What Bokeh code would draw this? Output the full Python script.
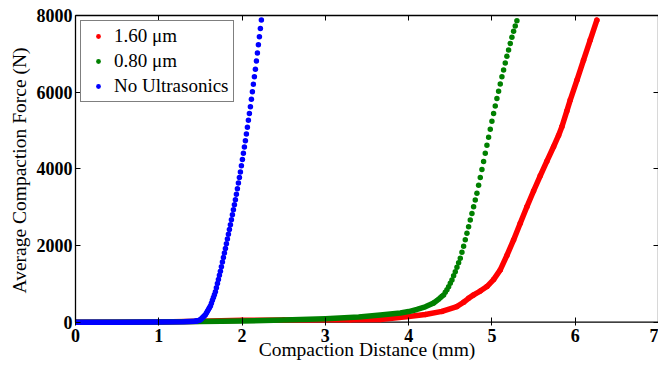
from bokeh.plotting import figure
from bokeh.models import Range1d, LinearAxis, FixedTicker, Legend, LegendItem, Span
from bokeh.embed import file_html
from bokeh.resources import INLINE

# ---------------- data ----------------
x_ticks = [0, 1, 2, 3, 4, 5, 6, 7]
y_ticks = [0, 2000, 4000, 6000, 8000]

# 1.60 um (red)
red_x = [0.0, 1.0, 1.5, 2.0, 2.5, 3.0, 3.3, 3.66, 4.0, 4.2, 4.4, 4.58, 4.66, 4.72,
         4.78, 4.86, 4.94, 5.02, 5.10, 5.18, 5.26, 5.34, 5.42, 5.50, 5.58, 5.66,
         5.74, 5.80, 5.84, 5.90, 5.94, 6.02, 6.10, 6.18, 6.26]
red_y = [0, 2, 25, 50, 55, 60, 62, 70, 146, 200, 280, 407, 520, 620,
         711, 810, 928, 1110, 1363, 1740, 2145, 2580, 3012, 3420, 3817, 4200,
         4576, 4870, 5097, 5510, 5793, 6310, 6835, 7360, 7878]

# 0.80 um (green): flat part and sampled rising part
green_base_x = [0.0, 1.0, 1.5, 2.0, 2.5, 3.0, 3.4, 3.66, 3.9, 4.0, 4.1, 4.2, 4.3]
green_base_y = [0, 2, 15, 30, 55, 90, 135, 185, 240, 276, 330, 400, 500]
green_dot_x = [4.30, 4.32, 4.34, 4.36, 4.38, 4.40, 4.42, 4.44, 4.46, 4.48, 4.50,
               4.52, 4.54, 4.56, 4.58, 4.60, 4.62, 4.64, 4.66, 4.68, 4.70, 4.72,
               4.74, 4.76, 4.78, 4.80, 4.82, 4.84, 4.86, 4.88, 4.90, 4.92, 4.94,
               4.96, 4.98, 5.00, 5.02, 5.04, 5.06, 5.08, 5.10, 5.12, 5.14, 5.16,
               5.18, 5.20, 5.22, 5.24, 5.26, 5.28, 5.30]
green_dot_y = [500, 533, 567, 600, 637, 674, 711, 778, 846, 924, 1013,
               1102, 1209, 1316, 1430, 1549, 1668, 1825, 1982, 2146, 2319, 2491,
               2663, 2834, 3008, 3185, 3362, 3569, 3776, 3985, 4194, 4404, 4614,
               4824, 5033, 5240, 5446, 5640, 5834, 6024, 6212, 6400, 6580, 6760,
               6934, 7102, 7270, 7430, 7590, 7725, 7860]

# No Ultrasonics (blue): flat part and sampled rising part
blue_base_x = [0.0, 0.5, 1.0, 1.3, 1.44]
blue_base_y = [0, 0, 3, 8, 20]
blue_dot_x = [1.440, 1.452, 1.464, 1.476, 1.488, 1.500, 1.512, 1.524, 1.536, 1.548,
              1.560, 1.572, 1.584, 1.596, 1.608, 1.620, 1.632, 1.644, 1.656, 1.668,
              1.680, 1.692, 1.704, 1.716, 1.728, 1.740, 1.752, 1.764, 1.776, 1.788,
              1.800, 1.812, 1.824, 1.836, 1.848, 1.860, 1.872, 1.884, 1.896, 1.908,
              1.920, 1.932, 1.944, 1.956, 1.968, 1.980, 1.992, 2.004, 2.016, 2.028,
              2.040, 2.052, 2.064, 2.076, 2.088, 2.100, 2.112, 2.124, 2.136, 2.148,
              2.160, 2.172, 2.184, 2.196, 2.208, 2.220, 2.232]
blue_dot_y = [20, 28, 36, 44, 52, 60, 86, 112, 138, 164,
              190, 236, 282, 328, 374, 420, 494, 568, 642, 716,
              790, 898, 1006, 1114, 1222, 1330, 1448, 1566, 1684, 1802,
              1920, 2044, 2168, 2292, 2416, 2540, 2670, 2800, 2930, 3060,
              3190, 3336, 3482, 3628, 3774, 3920, 4082, 4244, 4406, 4568,
              4730, 4908, 5086, 5264, 5442, 5620, 5816, 6012, 6208, 6404,
              6600, 6812, 7024, 7236, 7448, 7660, 7880]

labels = ["1.60 μm", "0.80 μm", "No Ultrasonics"]
RED, GREEN, BLUE = "#ff0000", "#008000", "#0000ff"
FONT = "Liberation Serif"

# ---------------- figure ----------------
p = figure(width=658, height=365, output_backend="svg", toolbar_location=None,
           x_range=Range1d(0, 7), y_range=Range1d(-88, 8000),
           x_axis_location=None, y_axis_location=None,
           min_border_left=75, min_border_right=0, min_border_top=15, min_border_bottom=40)
p.grid.visible = False
p.outline_line_color = None
p.background_fill_color = "white"
p.border_fill_color = "white"

# x-axis line at y = 0 (under the data, as in the reference)
p.add_layout(Span(location=0, dimension="width", line_color="black",
                  line_width=1.3, level="underlay"))

LW = 5.5
DOT = 5.5

red_line = p.line(red_x, red_y, line_color=RED, line_width=LW, line_cap="round", line_join="round")
red_dots = p.scatter(red_x, red_y, size=DOT, fill_color=RED, line_color=None)

p.line(green_base_x, green_base_y, line_color=GREEN, line_width=LW, line_cap="round", line_join="round")
green_dots = p.scatter(green_dot_x, green_dot_y, size=DOT, fill_color=GREEN, line_color=None)

p.line(blue_base_x, blue_base_y, line_color=BLUE, line_width=LW, line_cap="round", line_join="round")
blue_dots = p.scatter(blue_dot_x, blue_dot_y, size=DOT, fill_color=BLUE, line_color=None)


def style(ax, ticks, show_labels):
    ax.ticker = FixedTicker(ticks=ticks)
    ax.major_tick_in = 5
    ax.major_tick_out = 0
    ax.minor_tick_line_color = None
    ax.axis_line_color = "black"
    ax.axis_line_width = 1.3
    ax.major_tick_line_color = "black"
    ax.major_tick_line_width = 1
    if show_labels:
        ax.major_label_text_font = FONT
        ax.major_label_text_font_style = "bold"
        ax.major_label_text_font_size = "18px"
        ax.major_label_text_color = "black"
        ax.axis_label_text_font = FONT
        ax.axis_label_text_font_style = "normal"
        ax.axis_label_text_font_size = "19.5px"
        ax.axis_label_text_color = "black"
    else:
        ax.major_label_overrides = {t: "" for t in ticks}
        ax.major_label_text_font_size = "1px"
        ax.major_label_text_alpha = 0
        ax.major_label_standoff = 0
        ax.axis_label_standoff = 0


xb = LinearAxis(axis_label="Compaction Distance (mm)")
style(xb, x_ticks, True)
xb.axis_line_color = None          # drawn by the Span at y = 0
xb.major_tick_in = 8
xb.major_label_standoff = 3
xb.axis_label_standoff = -6
p.add_layout(xb, "below")

yl = LinearAxis(axis_label="Average Compaction Force (N)", bounds=(0, 8000))
style(yl, y_ticks, True)
yl.major_label_standoff = 3
yl.axis_label_standoff = 4
p.add_layout(yl, "left")

xt = LinearAxis()
style(xt, x_ticks, False)
p.add_layout(xt, "above")

yr = LinearAxis(bounds=(0, 8000))
style(yr, y_ticks, False)
p.add_layout(yr, "right")

legend = Legend(items=[LegendItem(label=labels[0], renderers=[red_dots]),
                       LegendItem(label=labels[1], renderers=[green_dots]),
                       LegendItem(label=labels[2], renderers=[blue_dots])],
                location="top_left")
legend.margin = 5
legend.padding = 4
legend.spacing = 3
legend.label_height = 22
legend.glyph_height = 12
legend.glyph_width = 26
legend.label_standoff = 3
legend.label_text_font = FONT
legend.label_text_font_size = "19px"
legend.label_text_color = "black"
legend.border_line_color = "black"
legend.border_line_width = 1.5
legend.background_fill_color = "white"
legend.background_fill_alpha = 1.0
p.add_layout(legend)

open("out.html", "w").write(file_html(p, INLINE))
